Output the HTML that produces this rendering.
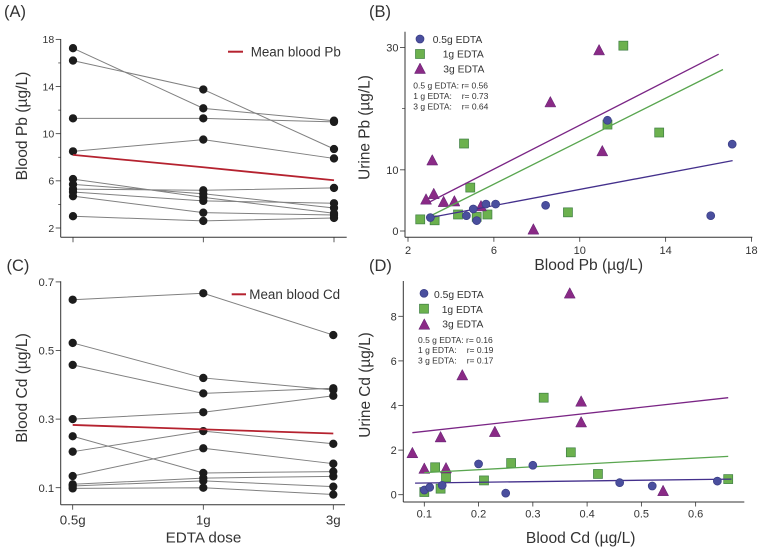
<!DOCTYPE html>
<html>
<head>
<meta charset="utf-8">
<title>Blood and urine metal levels by EDTA dose</title>
<style>
html,body{margin:0;padding:0;background:#fff;}
svg{display:block;font-family:"Liberation Sans",sans-serif;}
text{fill:#333;}
</style>
</head>
<body>
<svg id="chart" width="760" height="552" viewBox="0 0 760 552" xmlns="http://www.w3.org/2000/svg"></svg>
<script>
// Panel A
const doseLabels = ['0.5g', '1g', '3g'];
const pbSubjects = [
  [17.25, 12.15, 11.1], [16.2, 13.75, 8.7], [11.3, 11.3, 11.0], [8.5, 9.5, 7.9],
  [6.15, 4.6, 3.25], [5.7, 4.9, 3.7], [5.3, 5.2, 5.4], [5.05, 4.3, 4.1],
  [4.7, 3.3, 3.1], [3.0, 2.6, 2.85]
];
const pbMean = [8.2, 7.15, 6.05];
const pbMajorTicks = [2, 6, 10, 14, 18];
const pbMinorTicks = [4, 8, 12, 16];

// Panel C
const cdSubjects = [
  [0.648, 0.667, 0.545], [0.522, 0.42, 0.385], [0.458, 0.375, 0.39], [0.3, 0.32, 0.368],
  [0.25, 0.143, 0.147], [0.205, 0.265, 0.228], [0.134, 0.215, 0.17], [0.11, 0.128, 0.133],
  [0.105, 0.12, 0.103], [0.098, 0.1, 0.08]
];
const cdMean = [0.283, 0.27, 0.258];
const cdMajorTicks = [0.1, 0.3, 0.5, 0.7];

// Panel B
const urinePbCircleX = [3.04, 4.72, 5.04, 5.2, 5.63, 6.08, 8.41, 11.29, 16.1, 17.1];
const urinePbCircleY = [2.2, 2.5, 3.6, 1.7, 4.4, 4.4, 4.2, 18.1, 2.5, 14.2];
const urinePbSquareX = [2.57, 3.24, 4.33, 4.61, 5.2, 4.9, 5.7, 9.45, 11.29, 12.03, 13.7];
const urinePbSquareY = [1.9, 1.75, 2.7, 14.3, 2.3, 7.1, 2.7, 3.05, 17.4, 30.3, 16.1];
const urinePbTriangleX = [2.84, 3.2, 3.13, 3.66, 4.16, 5.4, 7.84, 8.63, 10.9, 11.05];
const urinePbTriangleY = [5.2, 6.1, 11.6, 4.8, 4.9, 4.1, 0.3, 21.1, 29.6, 13.1];
const urinePbFitCircle = [[3.04, 2.2], [17.12, 11.5]];
const urinePbFitSquare = [[2.98, 2.35], [16.67, 26.4]];
const urinePbFitTriangle = [[2.98, 4.7], [16.47, 28.9]];
const urinePbXTicks = [2, 6, 10, 14, 18];
const urinePbYTicks = [0, 10, 30];
const urinePbYMinorTicks = [20];

// Panel D
const urineCdCircleX = [0.1, 0.11, 0.133, 0.2, 0.25, 0.3, 0.46, 0.52, 0.64];
const urineCdCircleY = [0.21, 0.33, 0.42, 1.38, 0.07, 1.32, 0.54, 0.39, 0.61];
const urineCdSquareX = [0.1, 0.12, 0.13, 0.14, 0.21, 0.26, 0.32, 0.37, 0.42, 0.66];
const urineCdSquareY = [0.12, 1.23, 0.27, 0.78, 0.64, 1.42, 4.35, 1.9, 0.93, 0.7];
const urineCdTriangleX = [0.078, 0.1, 0.13, 0.14, 0.17, 0.23, 0.368, 0.389, 0.389, 0.54];
const urineCdTriangleY = [1.88, 1.18, 2.59, 1.2, 5.37, 2.83, 9.04, 4.19, 3.26, 0.18];
const urineCdFitCircle = [[0.083, 0.52], [0.666, 0.7]];
const urineCdFitSquare = [[0.1, 0.99], [0.66, 1.72]];
const urineCdFitTriangle = [[0.078, 2.78], [0.66, 4.35]];
const urineCdXTicks = [0.1, 0.2, 0.3, 0.4, 0.5, 0.6];
const urineCdYTicks = [0, 2, 4, 6, 8];

const svg = document.getElementById('chart');
const NS = 'http://www.w3.org/2000/svg';
const AXIS = '#333';
const GRAY = '#808080';
const RED = '#b5222f';
const BLUE = '#4a4f9e';
const GREEN = '#6cb14e';
const PURPLE = '#8a2a86';
const FIT_BLUE = '#44308c';
const FIT_GREEN = '#5aa650';
const FIT_PURPLE = '#7a2585';

function mk(tag, props, name, parent) {
  const el = document.createElementNS(NS, tag);
  for (const k in props) el.setAttribute(k, props[k]);
  
  
  (parent || svg).appendChild(el);
  return el;
}
function line(x1, y1, x2, y2, stroke, width, name, parent) {
  return mk('line', {x1: x1, y1: y1, x2: x2, y2: y2, stroke: stroke, 'stroke-width': width}, name, parent);
}
function text(str, x, y, size, anchor, name, rotate) {
  const props = {x: x, y: y, 'font-size': size, 'text-anchor': anchor || 'start'};
  if (rotate) props.transform = 'rotate(-90 ' + x + ' ' + y + ')';
  const t = mk('text', props, name);
  t.textContent = str;
  return t;
}
function circle(x, y, r, fill, stroke, name, parent) {
  return mk('circle', {cx: x, cy: y, r: r, fill: fill, stroke: stroke, 'stroke-width': 0.7}, name, parent);
}
function square(x, y, fill, name, parent) {
  return mk('rect', {x: x - 4.5, y: y - 4.5, width: 9, height: 9, fill: fill, stroke: '#3f7f45', 'stroke-width': 0.7}, name, parent);
}
function triangle(x, y, fill, name, parent) {
  const pts = (x - 5.5) + ',' + (y + 5) + ' ' + (x + 5.5) + ',' + (y + 5) + ' ' + x + ',' + (y - 5.5);
  return mk('polygon', {points: pts, fill: fill, stroke: '#5e2270', 'stroke-width': 0.5}, name, parent);
}

// ---------- Panel labels ----------
text('(A)', 4, 17, 16.5, 'start', 'panel-label-a');
text('(B)', 369, 17, 16.5, 'start', 'panel-label-b');
text('(C)', 6.5, 271, 16.5, 'start', 'panel-label-c');
text('(D)', 369, 271, 16.5, 'start', 'panel-label-d');

// ---------- Paired dose panels ----------
function pairedPanel(cfg) {
  const g = mk('g', {}, cfg.id + '-plot');
  line(cfg.axisX, cfg.axisTop, cfg.axisX, cfg.axisY, AXIS, 1, cfg.id + '-y-axis', g);
  line(cfg.axisX, cfg.axisY, cfg.axisRight, cfg.axisY, AXIS, 1, cfg.id + '-x-axis', g);
  cfg.major.forEach(function (v) {
    const yp = cfg.y(v);
    line(cfg.axisX - 5, yp, cfg.axisX, yp, AXIS, 0.8, cfg.id + '-y-tick', g);
    text(cfg.fmt(v), cfg.axisX - 6.5, yp + cfg.labelSize * 0.36, cfg.labelSize, 'end', cfg.id + '-y-tick-label');
  });
  cfg.minor.forEach(function (v) {
    const yp = cfg.y(v);
    line(cfg.axisX - 2.5, yp, cfg.axisX, yp, AXIS, 0.7, cfg.id + '-y-minor-tick', g);
  });
  doseLabels.forEach(function (d, i) {
    line(cfg.x(i), cfg.axisY, cfg.x(i), cfg.axisY + 5, AXIS, 0.8, cfg.id + '-x-tick', g);
    if (cfg.showX) text(d, cfg.x(i), 524.5, 13.3, 'middle', cfg.id + '-x-tick-label');
  });
  cfg.subjects.forEach(function (s) {
    const pts = s.map(function (v, i) { return cfg.x(i) + ',' + cfg.y(v); }).join(' ');
    mk('polyline', {points: pts, fill: 'none', stroke: GRAY, 'stroke-width': 1}, cfg.id + '-subject-line', g);
  });
  cfg.subjects.forEach(function (s) {
    s.forEach(function (v, i) {
      circle(cfg.x(i), cfg.y(v), 3.8, '#1c1c1c', '#1c1c1c', cfg.id + '-subject-point', g);
    });
  });
  const mp = cfg.mean.map(function (v, i) { return cfg.x(i) + ',' + cfg.y(v); }).join(' ');
  mk('polyline', {points: mp, fill: 'none', stroke: RED, 'stroke-width': 1.8}, cfg.id + '-mean-line', g);
}
pairedPanel({
  id: 'panel-a', subjects: pbSubjects, mean: pbMean, major: pbMajorTicks, minor: pbMinorTicks,
  axisX: 60.7, axisTop: 39, axisY: 237.3, axisRight: 346.7, labelSize: 10.5, showX: false,
  x: function (i) { return [73, 203.3, 334][i]; },
  y: function (v) { return 228 - (v - 2) * 11.79; },
  fmt: function (v) { return String(v); }
});
pairedPanel({
  id: 'panel-c', subjects: cdSubjects, mean: cdMean, major: cdMajorTicks, minor: [],
  axisX: 60.7, axisTop: 281.3, axisY: 504.7, axisRight: 345, labelSize: 11.3, showX: true,
  x: function (i) { return [72.7, 203.3, 333.3][i]; },
  y: function (v) { return 487.7 - (v - 0.1) * 343; },
  fmt: function (v) { return v.toFixed(1); }
});

line(228, 51.7, 243, 51.7, RED, 2, 'panel-a-legend-line');
text('Mean blood Pb', 250.7, 56.7, 13.4, 'start', 'panel-a-legend-label');
line(231.7, 294.3, 246, 294.3, RED, 2, 'panel-c-legend-line');
text('Mean blood Cd', 249.3, 299.2, 13.4, 'start', 'panel-c-legend-label');

text('Blood Pb (µg/L)', 27, 126, 15.6, 'middle', 'panel-a-y-title', true);
text('Blood Cd (µg/L)', 27, 388, 15.6, 'middle', 'panel-c-y-title', true);
text('EDTA dose', 203.5, 542.5, 15.2, 'middle', 'panel-c-x-title');

// ---------- Scatter panels ----------
function scatterPanel(cfg) {
  const g = mk('g', {}, cfg.id + '-plot');
  line(cfg.axisX, cfg.axisTop, cfg.axisX, cfg.axisY, AXIS, 1, cfg.id + '-y-axis', g);
  line(cfg.axisX, cfg.axisY, cfg.axisRight, cfg.axisY, AXIS, 1, cfg.id + '-x-axis', g);
  cfg.xTicks.forEach(function (v) {
    const xp = cfg.x(v);
    line(xp, cfg.axisY, xp, cfg.axisY + 4.5, AXIS, 0.8, cfg.id + '-x-tick', g);
    text(cfg.fmtX(v), xp, cfg.xLabelY, cfg.labelSize, 'middle', cfg.id + '-x-tick-label');
  });
  cfg.yTicks.forEach(function (v) {
    const yp = cfg.y(v);
    line(cfg.axisX - 5, yp, cfg.axisX, yp, AXIS, 0.8, cfg.id + '-y-tick', g);
    text(String(v), cfg.axisX - 6.5, yp + 4, cfg.labelSize, 'end', cfg.id + '-y-tick-label');
  });
  cfg.yMinor.forEach(function (v) {
    line(cfg.axisX - 3, cfg.y(v), cfg.axisX, cfg.y(v), AXIS, 0.7, cfg.id + '-y-minor-tick', g);
  });
  cfg.sx.forEach(function (v, i) { square(cfg.x(v), cfg.y(cfg.sy[i]), GREEN, cfg.id + '-1g-point', g); });
  cfg.tx.forEach(function (v, i) { triangle(cfg.x(v), cfg.y(cfg.ty[i]), PURPLE, cfg.id + '-3g-point', g); });
  const fit = function (f, c, n) {
    line(cfg.x(f[0][0]), cfg.y(f[0][1]), cfg.x(f[1][0]), cfg.y(f[1][1]), c, 1.3, cfg.id + n, g);
  };
  fit(cfg.fitS, FIT_GREEN, '-1g-fit-line');
  fit(cfg.fitT, FIT_PURPLE, '-3g-fit-line');
  fit(cfg.fitC, FIT_BLUE, '-05g-fit-line');
  cfg.cx.forEach(function (v, i) { circle(cfg.x(v), cfg.y(cfg.cy[i]), 4, BLUE, '#3a3d85', cfg.id + '-05g-point', g); });
}
scatterPanel({
  id: 'panel-b', axisX: 405, axisTop: 31.7, axisY: 237.3, axisRight: 752.3, labelSize: 11, xLabelY: 254,
  x: function (v) { return 408 + (v - 2) * 21.47; },
  y: function (v) { return 231 - v * 6.117; },
  fmtX: function (v) { return String(v); },
  xTicks: urinePbXTicks, yTicks: urinePbYTicks, yMinor: urinePbYMinorTicks,
  cx: urinePbCircleX, cy: urinePbCircleY, sx: urinePbSquareX, sy: urinePbSquareY, tx: urinePbTriangleX, ty: urinePbTriangleY,
  fitC: urinePbFitCircle, fitS: urinePbFitSquare, fitT: urinePbFitTriangle
});
scatterPanel({
  id: 'panel-d', axisX: 403.3, axisTop: 281, axisY: 502, axisRight: 744.3, labelSize: 11, xLabelY: 517.5,
  x: function (v) { return 424.3 + (v - 0.1) * 542.7; },
  y: function (v) { return 494.7 - v * 22.3; },
  fmtX: function (v) { return v.toFixed(1); },
  xTicks: urineCdXTicks, yTicks: urineCdYTicks, yMinor: [],
  cx: urineCdCircleX, cy: urineCdCircleY, sx: urineCdSquareX, sy: urineCdSquareY, tx: urineCdTriangleX, ty: urineCdTriangleY,
  fitC: urineCdFitCircle, fitS: urineCdFitSquare, fitT: urineCdFitTriangle
});

// Panel B legend
circle(420, 39, 4, BLUE, '#3a3d85', 'panel-b-legend-05g-marker');
square(420, 54, GREEN, 'panel-b-legend-1g-marker');
triangle(420, 68.5, PURPLE, 'panel-b-legend-3g-marker');
text('0.5g EDTA', 432.7, 43, 10.3, 'start', 'panel-b-legend-05g-label');
text('1g EDTA', 442.7, 57.5, 10.3, 'start', 'panel-b-legend-1g-label');
text('3g EDTA', 443.3, 72.5, 10.3, 'start', 'panel-b-legend-3g-label');
text('0.5 g EDTA: r= 0.56', 413.3, 88.7, 8.5, 'start', 'panel-b-r-05g');
text('1 g EDTA:', 413.3, 99, 8.5, 'start', 'panel-b-r-1g-label');
text('r= 0.73', 461.7, 99, 8.5, 'start', 'panel-b-r-1g-value');
text('3 g EDTA:', 413.3, 109.3, 8.5, 'start', 'panel-b-r-3g-label');
text('r= 0.64', 461.7, 109.3, 8.5, 'start', 'panel-b-r-3g-value');

// Panel D legend
circle(424, 293.3, 4, BLUE, '#3a3d85', 'panel-d-legend-05g-marker');
square(424, 308.7, GREEN, 'panel-d-legend-1g-marker');
triangle(424.3, 324.3, PURPLE, 'panel-d-legend-3g-marker');
text('0.5g EDTA', 434, 298, 10.3, 'start', 'panel-d-legend-05g-label');
text('1g EDTA', 441.7, 313, 10.3, 'start', 'panel-d-legend-1g-label');
text('3g EDTA', 442.3, 327.5, 10.3, 'start', 'panel-d-legend-3g-label');
text('0.5 g EDTA: r= 0.16', 418, 343, 8.5, 'start', 'panel-d-r-05g');
text('1 g EDTA:', 418, 353, 8.5, 'start', 'panel-d-r-1g-label');
text('r= 0.19', 466.7, 353, 8.5, 'start', 'panel-d-r-1g-value');
text('3 g EDTA:', 418, 363.7, 8.5, 'start', 'panel-d-r-3g-label');
text('r= 0.17', 466.7, 363.7, 8.5, 'start', 'panel-d-r-3g-value');

text('Urine Pb (µg/L)', 369.5, 127.5, 15.4, 'middle', 'panel-b-y-title', true);
text('Urine Cd (µg/L)', 370, 385, 15.4, 'middle', 'panel-d-y-title', true);
text('Blood Pb (µg/L)', 588.7, 270, 15.6, 'middle', 'panel-b-x-title');
text('Blood Cd (µg/L)', 580.7, 543, 15.6, 'middle', 'panel-d-x-title');
</script>
</body>
</html>
